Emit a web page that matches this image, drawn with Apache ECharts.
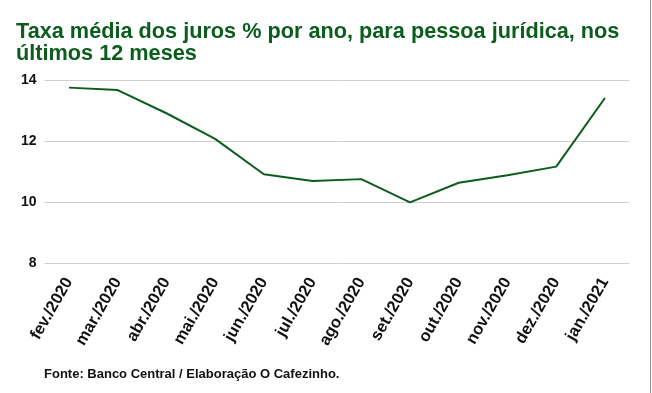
<!DOCTYPE html>
<html><head><meta charset="utf-8">
<script src="https://cdn.jsdelivr.net/npm/echarts@6/dist/echarts.min.js"></script>
<style>html,body{margin:0;padding:0;background:#fff}#c{width:652px;height:393px}</style>
</head><body><div id="c"></div>
<script>
const categories = ['fev./2020','mar./2020','abr./2020','mai./2020','jun./2020','jul./2020','ago./2020','set./2020','out./2020','nov./2020','dez./2020','jan./2021'];
const taxa = [13.75, 13.67, 12.91, 12.07, 10.91, 10.69, 10.75, 9.99, 10.63, 10.88, 11.16, 13.41];
const titleText = 'Taxa média dos juros % por ano, para pessoa jurídica, nos\núltimos 12 meses';
const sourceText = 'Fonte: Banco Central / Elaboração O Cafezinho.';
const chart = echarts.init(document.getElementById('c'));
chart.setOption({
  animation: false,
  backgroundColor: '#fff',
  title: {
    text: titleText, left: 11, top: 16,
    textStyle: { fontFamily: '"Liberation Sans", Arial, sans-serif', fontWeight: 'bold', fontSize: 21.7, color: '#0b5d1e', lineHeight: 22 }
  },
  graphic: [
    { type: 'text', left: 44, top: 368, style: { text: sourceText, fontFamily: '"Liberation Sans", Arial, sans-serif', fontWeight: 'bold', fontSize: 13, fill: '#111' } },
    { type: 'line', shape: { x1: 650.5, y1: 0, x2: 650.5, y2: 393 }, style: { stroke: '#999', lineWidth: 1 } }
  ],
  grid: { left: 44.6, right: 22.7, top: 80, bottom: 130 },
  xAxis: {
    type: 'category', data: categories, boundaryGap: true,
    axisLine: { show: false }, axisTick: { show: false },
    axisLabel: { rotate: 60, interval: 0, margin: 16, fontFamily: '"Liberation Sans", Arial, sans-serif', fontWeight: 'bold', fontSize: 16.5, color: '#111' }
  },
  yAxis: {
    type: 'value', min: 8, max: 14, interval: 2,
    axisLine: { show: false }, axisTick: { show: false },
    axisLabel: { margin: 8, fontFamily: '"Liberation Sans", Arial, sans-serif', fontWeight: 'bold', fontSize: 14, color: '#111' },
    splitLine: { lineStyle: { color: '#d0d0d0', width: 1 } }
  },
  series: [{
    type: 'line', data: taxa, symbol: 'none',
    lineStyle: { color: '#0b5d1e', width: 2 }
  }]
});
</script></body></html>
